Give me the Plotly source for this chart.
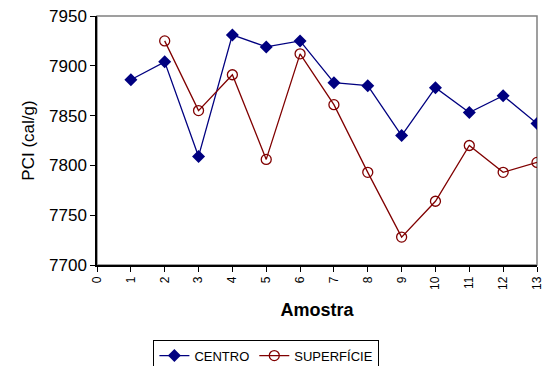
import plotly.graph_objects as go

amostra = list(range(1, 14))
centro = [7886, 7904, 7809, 7931, 7919, 7925, 7883, 7880, 7830, 7878, 7853, 7870, 7842]
amostra_sup = list(range(2, 14))
superficie = [7925, 7855, 7891, 7806, 7912, 7861, 7793, 7728, 7764, 7820, 7793, 7803]
x_ticks = list(range(0, 14))
y_ticks = [7700, 7750, 7800, 7850, 7900, 7950]

FONT = "Liberation Sans, Arial, sans-serif"

fig = go.Figure()
fig.add_trace(go.Scatter(
    x=amostra, y=centro, name="CENTRO", mode="lines+markers",
    line=dict(color="#000080", width=1.3),
    marker=dict(symbol="diamond", size=10, color="#000080"),
))
fig.add_trace(go.Scatter(
    x=amostra_sup, y=superficie, name="SUPERFÍCIE", mode="lines+markers",
    line=dict(color="#800000", width=1.3),
    marker=dict(symbol="circle-open", size=10, color="#800000", line=dict(width=1.3)),
))

fig.update_layout(
    width=547, height=366,
    margin=dict(l=97, r=10, t=16, b=101, autoexpand=False),
    paper_bgcolor="white", plot_bgcolor="white",
    font=dict(family=FONT, color="black"),
    showlegend=True,
    legend=dict(
        orientation="h", x=0.385, xanchor="center", y=0.072, yanchor="top",
        yref="container",
        bordercolor="black", borderwidth=1,
        font=dict(size=13, family=FONT),
        tracegroupgap=0,
    ),
    shapes=[dict(type="rect", xref="paper", yref="paper", x0=0, x1=1, y0=0, y1=1,
                 line=dict(color="#808080", width=1.5), layer="below")],
)
fig.update_xaxes(
    range=[0, 13], tickmode="array", tickvals=x_ticks, ticktext=[str(v) for v in x_ticks],
    tickangle=-90, tickfont=dict(size=12),
    showgrid=False, zeroline=False,
    showline=True, linecolor="black", linewidth=1.5,
    ticks="outside", ticklen=5, tickcolor="black",
    title=dict(text="<b>Amostra</b>", font=dict(size=18), standoff=14),
)
fig.update_yaxes(
    range=[7700, 7950], tickmode="array", tickvals=y_ticks,
    tickfont=dict(size=17),
    showgrid=False, zeroline=False,
    showline=True, linecolor="black", linewidth=1.5,
    ticks="outside", ticklen=5, tickcolor="black",
    title=dict(text="PCI (cal/g)", font=dict(size=17), standoff=10),
)

fig.write_html("out.html")
